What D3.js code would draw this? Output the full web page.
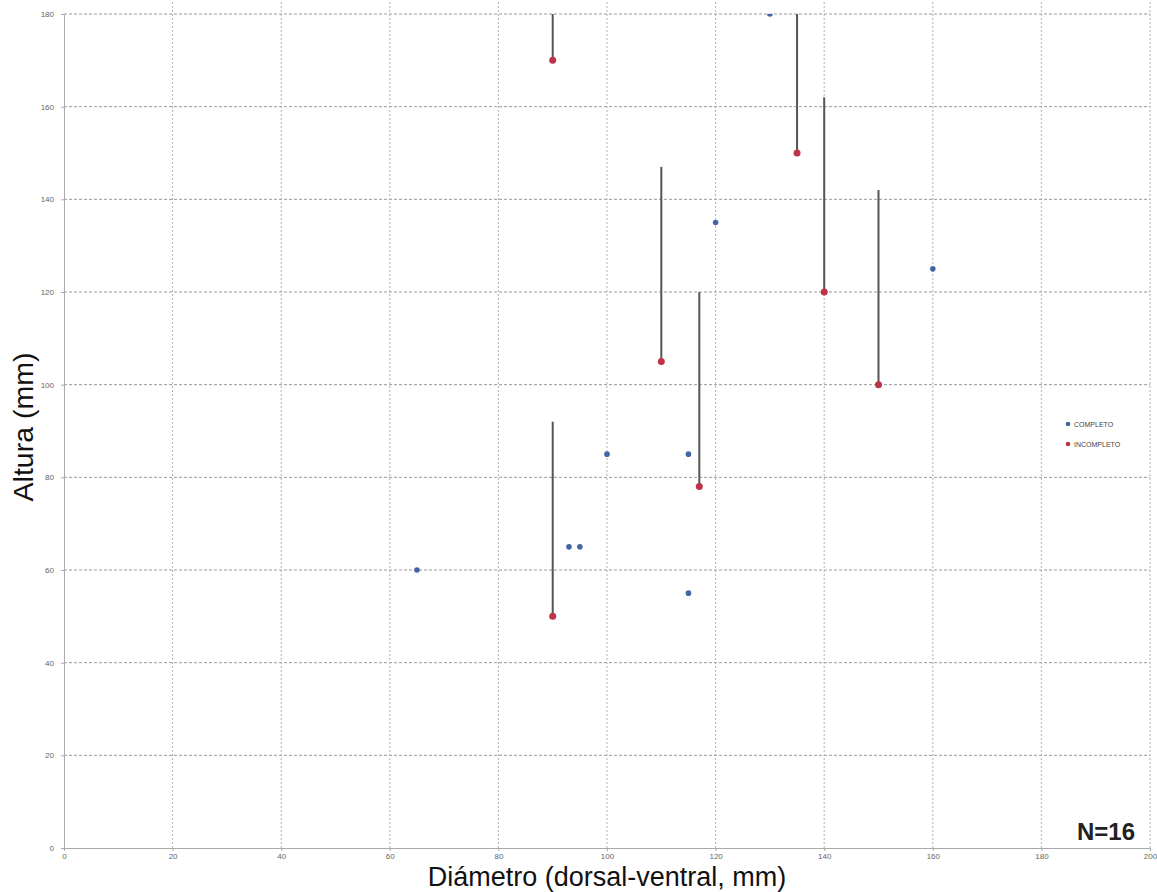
<!DOCTYPE html>
<html><head><meta charset="utf-8">
<script src="https://cdn.jsdelivr.net/npm/d3@7"></script>
<style>body{margin:0;background:#fff}svg{display:block}</style>
</head><body>
<svg id="c" width="1157" height="892"></svg>
<script>
// Data
const completoX = [65, 93, 95, 100, 115, 115, 120, 130, 160];
const completoY = [60, 65, 65, 85, 85, 55, 135, 180, 125];
const incompletoX = [90, 90, 110, 117, 135, 140, 150];
const incompletoY = [170, 50, 105, 78, 150, 120, 100];
const incompletoMax = [190, 92, 147, 120, 190, 162, 142];
const xTicks = [0, 20, 40, 60, 80, 100, 120, 140, 160, 180, 200];
const yTicks = [0, 20, 40, 60, 80, 100, 120, 140, 160, 180];
const legendLabels = ["COMPLETO", "INCOMPLETO"];

const svg = d3.select("#c");
const x = d3.scaleLinear().domain([0, 200]).range([64, 1150]);
const y = d3.scaleLinear().domain([0, 180]).range([848, 14]);

svg.append("defs").append("clipPath").attr("id", "clip")
  .append("rect").attr("x", 0).attr("y", 14).attr("width", 1157).attr("height", 900);

// grid
svg.append("g").selectAll("line").data(yTicks.filter(d => d > 0)).join("line")
  .attr("x1", x(0)).attr("x2", x(200)).attr("y1", d => y(d)).attr("y2", d => y(d))
  .attr("stroke", "#9a9a9a").attr("stroke-width", 1).attr("stroke-dasharray", "3,2");
svg.append("g").selectAll("line").data(xTicks.filter(d => d > 0)).join("line")
  .attr("x1", d => x(d)).attr("x2", d => x(d)).attr("y1", y(0)).attr("y2", 0)
  .attr("stroke", "#b0b0b0").attr("stroke-width", 1).attr("stroke-dasharray", "2,2");

// axes
const xAxis = svg.append("g").attr("transform", `translate(0,${y(0)})`)
  .call(d3.axisBottom(x).tickValues(xTicks).tickSize(3).tickSizeOuter(0));
const yAxis = svg.append("g").attr("transform", `translate(${x(0)},0)`)
  .call(d3.axisLeft(y).tickValues(yTicks).tickSize(3).tickSizeOuter(0));
[xAxis, yAxis].forEach(a => {
  a.select(".domain").attr("stroke", "#aaa");
  a.selectAll(".tick line").attr("stroke", "#aaa");
  a.selectAll(".tick text").attr("fill", "#666").attr("font-size", 8)
    .attr("font-family", "Liberation Sans, Arial, sans-serif");
});
xAxis.selectAll(".tick text").attr("dy", "0.6em");
yAxis.selectAll(".tick text").attr("dx", "-4");

// range lines for incompleto
const g = svg.append("g").attr("clip-path", "url(#clip)");
g.selectAll("line.rng").data(incompletoX).join("line").attr("class", "rng")
  .attr("x1", d => x(d)).attr("x2", d => x(d))
  .attr("y1", (d, i) => y(incompletoY[i])).attr("y2", (d, i) => y(incompletoMax[i]))
  .attr("stroke", "#555").attr("stroke-width", 2);

g.selectAll("circle.comp").data(completoX).join("circle").attr("class", "comp")
  .attr("cx", d => x(d)).attr("cy", (d, i) => y(completoY[i])).attr("r", 2.8)
  .attr("fill", "#4464a8");
g.selectAll("circle.inc").data(incompletoX).join("circle").attr("class", "inc")
  .attr("cx", d => x(d)).attr("cy", (d, i) => y(incompletoY[i])).attr("r", 3.5)
  .attr("fill", "#bd3448");

// legend
const colors = ["#4464a8", "#bd3448"];
const lg = svg.append("g");
legendLabels.forEach((l, i) => {
  lg.append("circle").attr("cx", 1068).attr("cy", 424 + i * 20).attr("r", 2.3).attr("fill", colors[i]);
  lg.append("text").attr("x", 1074).attr("y", 426.5 + i * 20).text(l)
    .attr("font-size", 7).attr("fill", "#444").attr("font-family", "Liberation Sans, Arial, sans-serif");
});

// titles
svg.append("text").attr("x", 607).attr("y", 885.5).attr("text-anchor", "middle")
  .attr("font-size", 27).attr("font-family", "Liberation Sans, Arial, sans-serif").attr("fill", "#111")
  .text("Diámetro (dorsal-ventral, mm)");
svg.append("text").attr("transform", "translate(33,427) rotate(-90)").attr("text-anchor", "middle")
  .attr("font-size", 28.5).attr("font-family", "Liberation Sans, Arial, sans-serif").attr("fill", "#111")
  .text("Altura (mm)");
svg.append("text").attr("x", 1135).attr("y", 840).attr("text-anchor", "end")
  .attr("font-size", 24).attr("font-weight", "bold").attr("font-family", "Liberation Sans, Arial, sans-serif").attr("fill", "#222")
  .text("N=16");
</script>
</body></html>
